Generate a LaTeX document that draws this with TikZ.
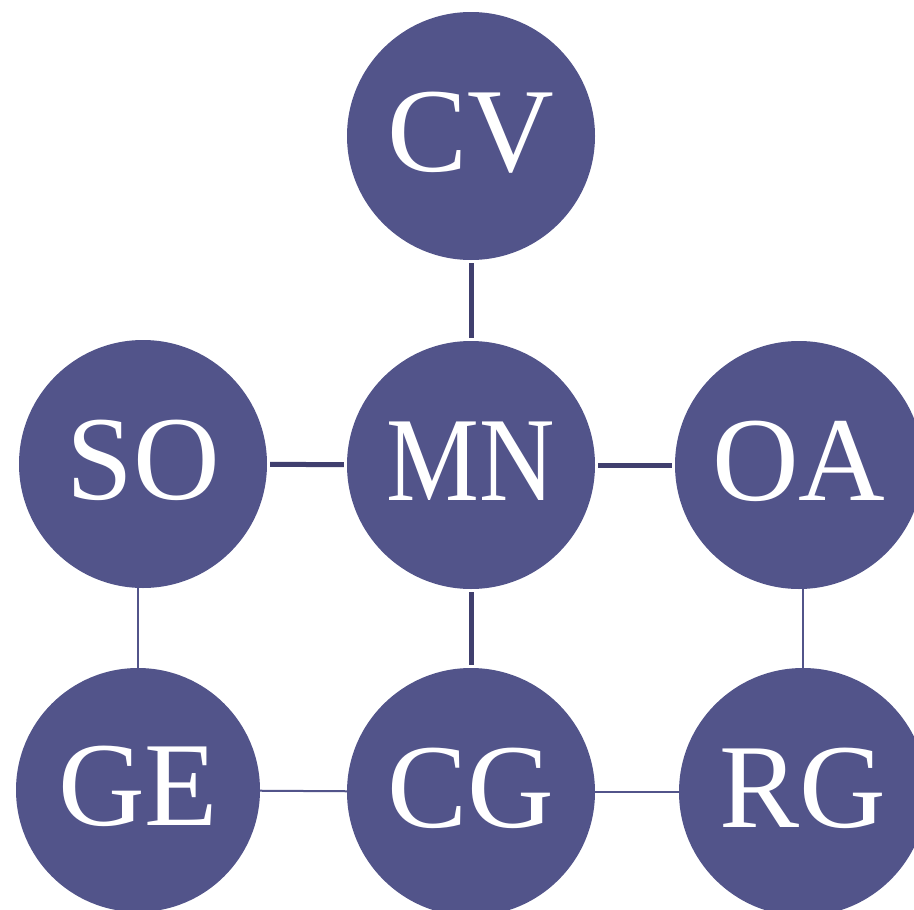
\documentclass[tikz,border=0pt]{standalone}
\usepackage{fontspec}
\setmainfont{Liberation Serif}
\usepackage{graphicx}
\definecolor{circ}{HTML}{52548A}
\definecolor{thickc}{HTML}{403F6E}
\tikzset{
  bub/.style={circle, fill=circ, draw=none, minimum size=248pt, inner sep=0pt,
    text=white, font=\fontsize{120}{120}\selectfont, text height=70pt, text depth=0pt},
  strong/.style={draw=thickc, line width=5pt, shorten <=3pt, shorten >=3pt},
  weak/.style={draw=circ, line width=2pt}
}
\begin{document}
\begin{tikzpicture}[x=1pt,y=-1pt]
\clip (0,0) rectangle (914,910);
\fill[white] (0,0) rectangle (914,910);
\node[bub] (CV) at (471,136) {CV};
\node[bub] (MN) at (471,465) {\scalebox{0.87}[1]{MN}};
\node[bub] (SO) at (143,464) {SO};
\node[bub] (OA) at (799,465) {OA};
\node[bub, minimum size=244pt] (GE) at (138,790) {GE};
\node[bub] (CG) at (471,792) {CG};
\node[bub] (RG) at (803,792) {RG};
\draw[strong] (CV) -- (MN);
\draw[strong] (SO) -- (MN);
\draw[strong] (MN) -- (OA);
\draw[strong] (MN) -- (CG);
\draw[weak] (GE.north) -- (GE.north |- SO.south);
\draw[weak] (RG.north) -- (RG.north |- OA.south);
\draw[weak] (GE) -- (CG);
\draw[weak] (CG) -- (RG);
\end{tikzpicture}
\end{document}
